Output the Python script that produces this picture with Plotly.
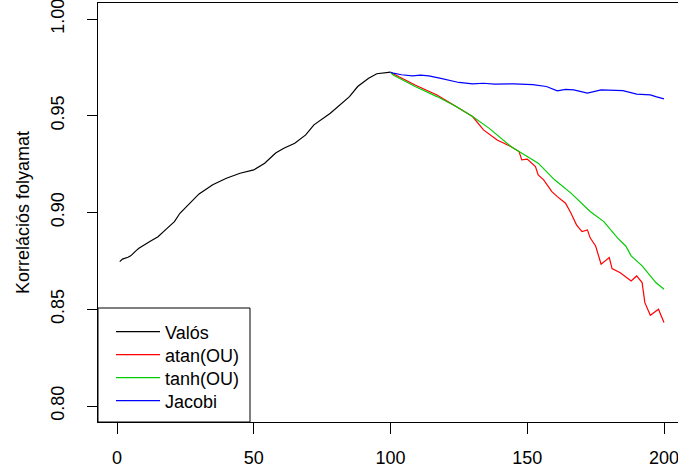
import plotly.graph_objects as go

# --- data ---
valos_x = [1, 2, 4, 5, 7, 8, 12, 15, 18, 21, 23, 26, 30, 35, 40, 45, 50, 54, 58, 61, 65, 69, 72, 78, 82, 85, 88, 92, 95, 100]
valos_y = [0.8746, 0.8759, 0.8769, 0.8776, 0.8803, 0.8815, 0.8850, 0.8875, 0.8914, 0.8953, 0.8996, 0.9039,
           0.9096, 0.9143, 0.9177, 0.9203, 0.9220, 0.9255, 0.9307, 0.9332, 0.9358, 0.9401, 0.9453, 0.9513,
           0.9565, 0.9599, 0.9651, 0.9694, 0.9717, 0.9725]

atan_x = [100, 101, 109, 117, 124, 130, 134, 139, 144, 147, 148, 150, 153, 154, 156, 159, 161, 164, 166, 168,
          170, 172, 173, 175, 177, 180, 181, 184, 188, 190, 192, 193, 195, 197, 198, 199, 200]
atan_y = [0.9725, 0.9717, 0.9659, 0.9607, 0.9548, 0.9496, 0.9427, 0.9375, 0.9341, 0.9315, 0.9272, 0.9276,
          0.9237, 0.9194, 0.9169, 0.9108, 0.9082, 0.9048, 0.8996, 0.8936, 0.8901, 0.8910, 0.8869, 0.8827,
          0.8733, 0.8767, 0.8710, 0.8689, 0.8646, 0.8672, 0.8638, 0.8534, 0.8469, 0.8491, 0.8500, 0.8465, 0.8431]

tanh_x = [100, 101, 109, 117, 124, 130, 136, 144, 150, 154, 160, 166, 173, 178, 183, 186, 188, 192, 197, 200]
tanh_y = [0.9725, 0.9711, 0.9651, 0.9599, 0.9548, 0.9496, 0.9436, 0.9341, 0.9289, 0.9255, 0.9169, 0.9100,
          0.9005, 0.8953, 0.8869, 0.8827, 0.8776, 0.8724, 0.8638, 0.8603]

jacobi_x = [100, 101, 104, 108, 111, 114, 118, 122, 125, 130, 134, 138, 145, 152, 157, 161, 164, 167, 172,
            177, 181, 185, 190, 195, 197, 200]
jacobi_y = [0.9725, 0.9720, 0.9712, 0.9706, 0.9710, 0.9706, 0.9694, 0.9682, 0.9672, 0.9665, 0.9668, 0.9663,
            0.9665, 0.9661, 0.9651, 0.9629, 0.9636, 0.9634, 0.9617, 0.9634, 0.9632, 0.9630, 0.9612, 0.9608,
            0.9599, 0.9587]

series_names = ["Valós", "atan(OU)", "tanh(OU)", "Jacobi"]
series_x = [valos_x, atan_x, tanh_x, jacobi_x]
series_y = [valos_y, atan_y, tanh_y, jacobi_y]
series_colors = ["#000000", "#FF0000", "#00CD00", "#0000FF"]

x_ticks = [0, 50, 100, 150, 200]
y_ticks = [0.80, 0.85, 0.90, 0.95, 1.00]
y_ticktext = ["0.80", "0.85", "0.90", "0.95", "1.00"]

FONT = "Liberation Sans, Arial, sans-serif"

W, H = 678, 472
ml, mr, mt, mb = 98, 0, 3, 50
pw, ph = W - ml - mr, H - mt - mb

# legend row centres (pixel rows in the reference) -> paper coords
legend_rows_px = [332, 355, 378, 401]
legend_names = ["legend", "legend2", "legend3", "legend4"]

fig = go.Figure()
for i in range(4):
    fig.add_trace(go.Scatter(x=series_x[i], y=series_y[i], mode="lines", name=series_names[i],
                             line=dict(color=series_colors[i], width=1.2),
                             legend=legend_names[i]))

layout_legends = {}
for i, ln in enumerate(legend_names):
    layout_legends[ln] = dict(
        x=(111 - ml) / pw, y=(H - mb - legend_rows_px[i]) / ph,
        xanchor="left", yanchor="middle",
        bgcolor="rgba(0,0,0,0)", borderwidth=0,
        font=dict(family=FONT, size=18, color="#000000"), itemwidth=44)

fig.update_layout(
    width=W, height=H,
    margin=dict(l=ml, r=mr, t=mt, b=mb, pad=0, autoexpand=False),
    paper_bgcolor="white", plot_bgcolor="white",
    font=dict(family=FONT, size=18, color="#000000"),
    showlegend=True,
    xaxis=dict(range=[-6.947, 205.12], tickvals=x_ticks, ticks="outside", ticklen=11,
               tickcolor="#000000", showline=True, linecolor="#000000", linewidth=1,
               mirror=True, showgrid=False, zeroline=False, ticklabelstandoff=8,
               ticklabeloverflow="allow", automargin=False,
               tickfont=dict(size=18)),
    yaxis=dict(range=[0.79173, 1.00827], tickvals=y_ticks, ticktext=y_ticktext,
               ticks="outside", ticklen=10, tickcolor="#000000", tickangle=-90,
               showline=True, linecolor="#000000", linewidth=1, mirror=False,
               showgrid=False, zeroline=False, ticklabelstandoff=16,
               ticklabeloverflow="allow", automargin=False,
               tickfont=dict(size=18),
               title=dict(text="Korrelációs folyamat", font=dict(size=18), standoff=13)),
    **layout_legends,
)

# legend frame
fig.add_shape(type="rect", xref="paper", yref="paper",
              x0=0, x1=(250 - ml) / pw, y0=0, y1=(H - mb - 308) / ph,
              line=dict(color="#000000", width=1), fillcolor="rgba(0,0,0,0)")

fig.write_html("out.html", config={"displayModeBar": False},
               post_script="document.body.style.margin='0';document.body.style.overflow='hidden';")
